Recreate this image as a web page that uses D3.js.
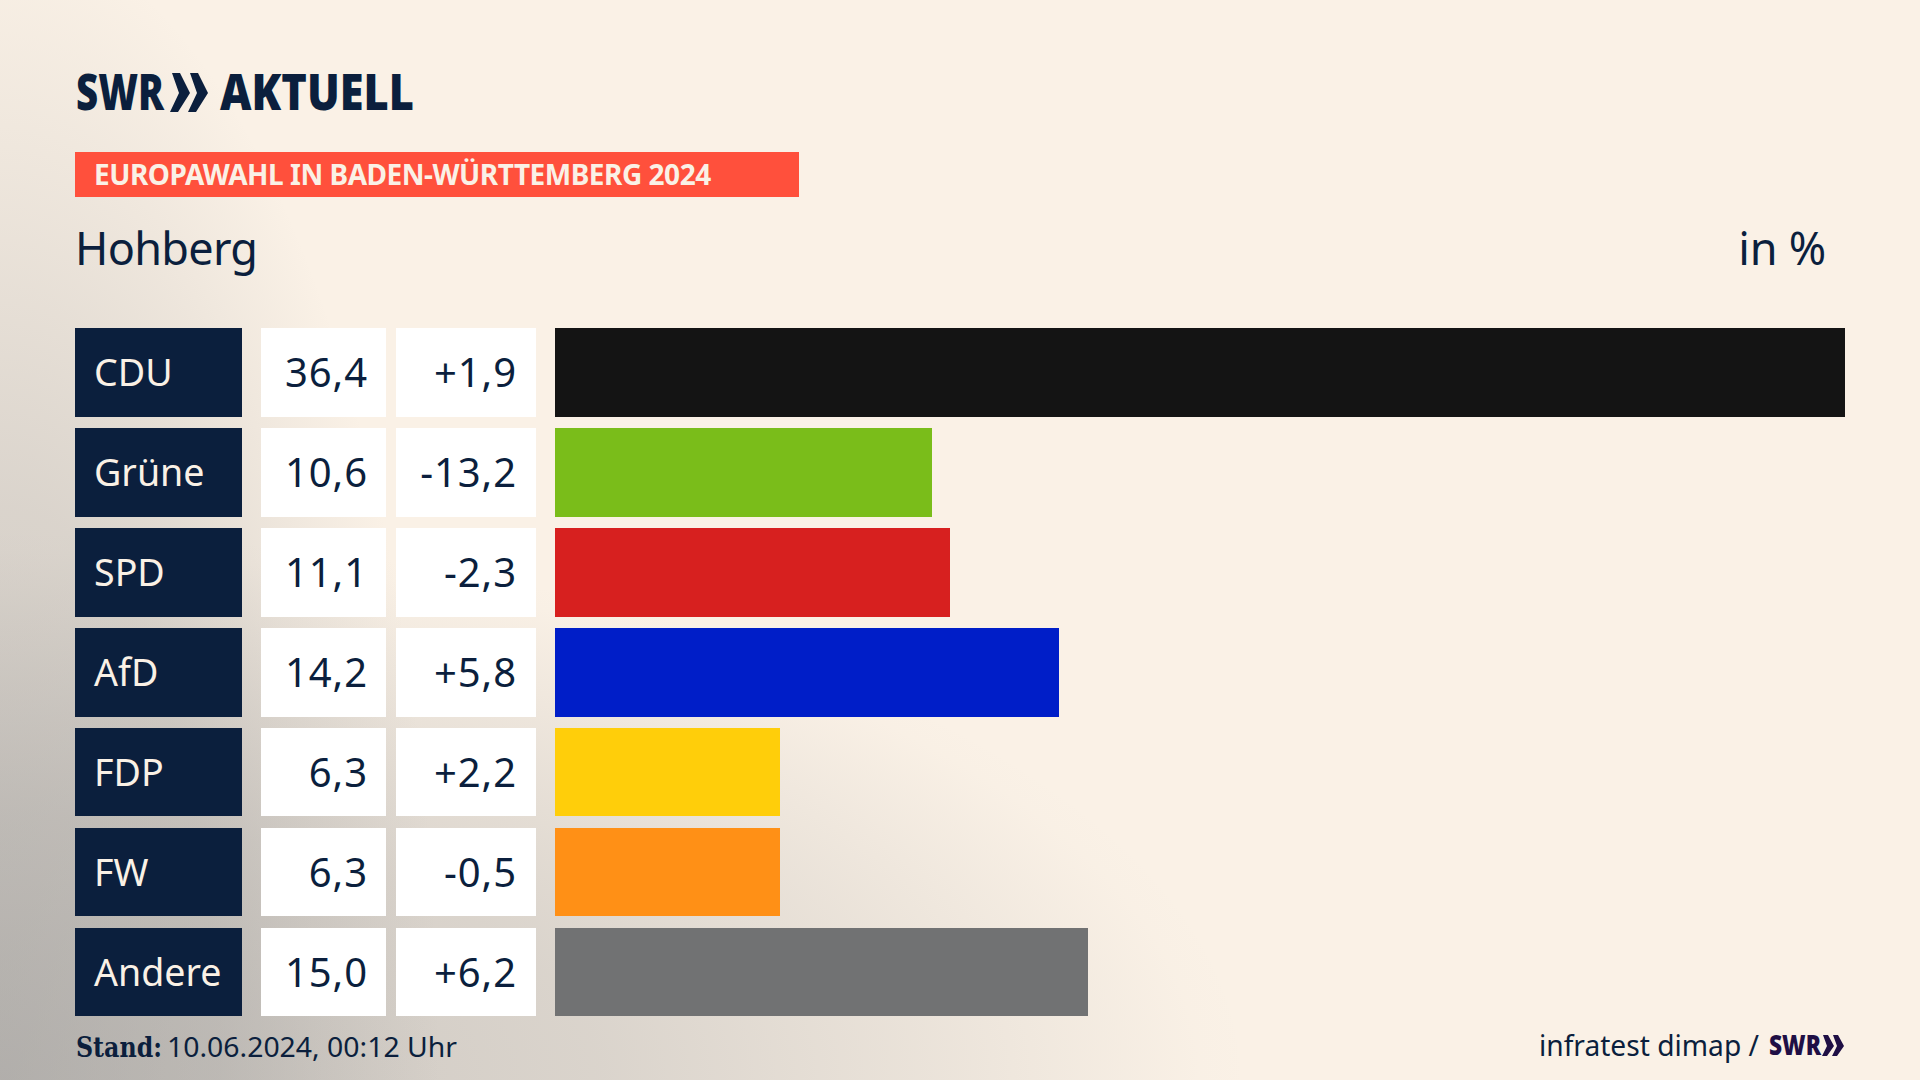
<!DOCTYPE html>
<html>
<head>
<meta charset="utf-8">
<title>Europawahl Hohberg</title>
<script src="https://cdn.jsdelivr.net/npm/d3@7"></script>
<style>
html, body { margin: 0; padding: 0; background: #faf1e6; overflow: hidden; }
svg { display: block; }
text { font-family: "Noto Sans", sans-serif; fill: #0b1f3d; }
</style>
</head>
<body>
<svg id="chart" width="1920" height="1080"></svg>
<script>
// values
var parties = ["CDU", "Grüne", "SPD", "AfD", "FDP", "FW", "Andere"];
var shares = [36.4, 10.6, 11.1, 14.2, 6.3, 6.3, 15.0];
var changes = [1.9, -13.2, -2.3, 5.8, 2.2, -0.5, 6.2];
var partyColors = ["#141414", "#7abd1a", "#d7201f", "#001ec8", "#ffce0a", "#ff9016", "#717273"];

var navy = "#0b1f3d";
var svg = d3.select("#chart");

var deLocale = d3.formatLocale({decimal: ",", thousands: ".", grouping: [3], currency: ["", " €"], minus: "-"});
var fmtShare = deLocale.format(".1f");
var fmtChange = deLocale.format("+.1f");

var y = d3.scaleBand().domain(parties).range([328, 1016.33]).paddingInner(0.112);
var x = d3.scaleLinear().domain([0, 36.4]).range([556.8, 1845]);
var barLeft = 555;
var color = d3.scaleOrdinal().domain(parties).range(partyColors);

// background: cream, grey glow along bottom edge and left edge
var defs = svg.append("defs");
function glow(id, stops) {
    var g = defs.append("radialGradient").attr("id", id);
    stops.forEach(function(s) {
        g.append("stop").attr("offset", s[0]).attr("stop-color", "#909090").attr("stop-opacity", s[1]);
    });
}
glow("glowBottom", [[0, .44], [.24, .38], [.48, .3], [.72, .16], [.96, .01], [1, 0]]);
glow("glowLeft", [[0, .44], [.5, .3], [.75, .14], [.87, .07], [1, 0]]);
svg.append("rect").attr("width", 1920).attr("height", 1080).attr("fill", "#faf1e6");
svg.append("ellipse").attr("cx", 0).attr("cy", 1080).attr("rx", 1250).attr("ry", 550).attr("fill", "url(#glowBottom)");
svg.append("ellipse").attr("cx", 0).attr("cy", 1080).attr("rx", 440).attr("ry", 1150).attr("fill", "url(#glowLeft)");

// logo
function logoText(px, py, size, len, txt, fill) {
    svg.append("text").attr("x", px).attr("y", py)
        .attr("textLength", len).attr("lengthAdjust", "spacingAndGlyphs")
        .style("font-weight", 900).style("font-size", size + "px").style("fill", fill).text(txt);
}
logoText(76, 110, 49, 88, "SWR", navy);
logoText(220, 110, 49, 194, "AKTUELL", navy);
var chevron = "M2,0 L10,0 L20,20 L8,39 L0,39 L9,20 Z";
[170, 188].forEach(function(cx) {
    svg.append("path").attr("d", chevron).attr("transform", "translate(" + cx + ",73)").attr("fill", navy);
});

// red header band
svg.append("rect").attr("x", 75).attr("y", 152).attr("width", 724).attr("height", 45).attr("fill", "#ff503c");
svg.append("text").attr("x", 94).attr("y", 185)
    .style("font-weight", 700).style("font-size", "28px").style("letter-spacing", "-0.48px").style("fill", "#faf1e6")
    .text("EUROPAWAHL IN BADEN-WÜRTTEMBERG 2024");

svg.append("text").attr("x", 75).attr("y", 265).style("font-size", "45px").style("letter-spacing", "-0.7px").text("Hohberg");
svg.append("text").attr("x", 1826).attr("y", 265).attr("text-anchor", "end").style("font-size", "45px").style("letter-spacing", "-0.2px").text("in %");

// rows
var rows = svg.selectAll("g.row").data(parties).enter().append("g").attr("class", "row")
    .attr("transform", function(d) { return "translate(0," + y(d) + ")"; });

function rowRect(px, w, fill) {
    return rows.append("rect").attr("x", px).attr("width", w).attr("height", y.bandwidth())
        .attr("shape-rendering", "crispEdges").attr("fill", fill);
}
rowRect(75, 167, navy);
rowRect(261, 125, "#fff");
rowRect(396, 140, "#fff");
rowRect(barLeft, function(d, i) { return x(shares[i]) - barLeft; }, function(d) { return color(d); });

rows.append("text").attr("x", 94).attr("y", 58).style("font-size", "37.6px").style("fill", "#faf1e6")
    .text(function(d) { return d; });
rows.append("text").attr("x", 368).attr("y", 59).attr("text-anchor", "end")
    .style("font-size", "40px").style("letter-spacing", "0.9px")
    .text(function(d, i) { return fmtShare(shares[i]); });
rows.append("text").attr("x", 517).attr("y", 59).attr("text-anchor", "end")
    .style("font-size", "40px").style("letter-spacing", "0.9px")
    .text(function(d, i) { return fmtChange(changes[i]); });

// footer
svg.append("text").attr("x", 76).attr("y", 1057)
    .attr("textLength", 86).attr("lengthAdjust", "spacingAndGlyphs")
    .style("font-family", "'DejaVu Serif'").style("font-weight", 700).style("font-size", "27px").text("Stand:");
svg.append("text").attr("x", 167).attr("y", 1057)
    .attr("textLength", 290).attr("lengthAdjust", "spacingAndGlyphs")
    .style("font-size", "28px").text("10.06.2024, 00:12 Uhr");
svg.append("text").attr("x", 1539).attr("y", 1056)
    .attr("textLength", 220).attr("lengthAdjust", "spacingAndGlyphs")
    .style("font-size", "28.4px").text("infratest dimap /");
logoText(1769, 1055, 29, 52, "SWR", "#1f0f45");
var smallChevron = "M1,0 L6,0 L12,11 L5,21 L0,21 L5,11 Z";
[1822, 1832].forEach(function(cx) {
    svg.append("path").attr("d", smallChevron).attr("transform", "translate(" + cx + ",1035)").attr("fill", "#1f0f45");
});
</script>
</body>
</html>
